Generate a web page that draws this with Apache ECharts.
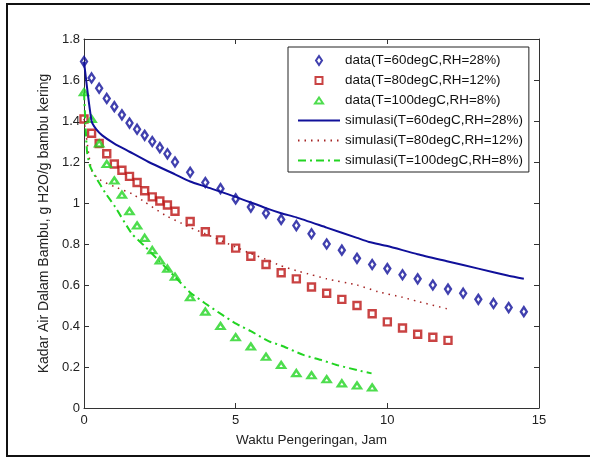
<!DOCTYPE html>
<html>
<head>
<meta charset="utf-8">
<script src="https://cdn.jsdelivr.net/npm/echarts@6/dist/echarts.min.js"></script>
<style>
  html, body { margin: 0; padding: 0; background: #fff; }
  #chart { width: 590px; height: 458px; }
</style>
</head>
<body>
<div id="chart"></div>
<script>
// Measured moisture content (g H2O / g dry bamboo) against drying time (hours)
var dataTime60 = [0, 0.25, 0.5, 0.75, 1, 1.25, 1.5, 1.75, 2, 2.25, 2.5, 2.75, 3, 3.5, 4, 4.5, 5, 5.5, 6, 6.5, 7, 7.5, 8, 8.5, 9, 9.5, 10, 10.5, 11, 11.5, 12, 12.5, 13, 13.5, 14, 14.5];
var dataMoist60 = [1.69, 1.61, 1.56, 1.51, 1.47, 1.43, 1.39, 1.36, 1.33, 1.30, 1.27, 1.24, 1.20, 1.15, 1.10, 1.07, 1.02, 0.98, 0.95, 0.92, 0.89, 0.85, 0.80, 0.77, 0.73, 0.70, 0.68, 0.65, 0.63, 0.60, 0.58, 0.56, 0.53, 0.51, 0.49, 0.47];

var dataTime80 = [0, 0.25, 0.5, 0.75, 1, 1.25, 1.5, 1.75, 2, 2.25, 2.5, 2.75, 3, 3.5, 4, 4.5, 5, 5.5, 6, 6.5, 7, 7.5, 8, 8.5, 9, 9.5, 10, 10.5, 11, 11.5, 12];
var dataMoist80 = [1.41, 1.34, 1.29, 1.24, 1.19, 1.16, 1.13, 1.10, 1.06, 1.03, 1.01, 0.99, 0.96, 0.91, 0.86, 0.82, 0.78, 0.74, 0.70, 0.66, 0.63, 0.59, 0.56, 0.53, 0.50, 0.46, 0.42, 0.39, 0.36, 0.345, 0.33];

var dataTime100 = [0, 0.25, 0.5, 0.75, 1, 1.25, 1.5, 1.75, 2, 2.25, 2.5, 2.75, 3, 3.5, 4, 4.5, 5, 5.5, 6, 6.5, 7, 7.5, 8, 8.5, 9, 9.5];
var dataMoist100 = [1.54, 1.41, 1.29, 1.19, 1.11, 1.04, 0.96, 0.89, 0.83, 0.77, 0.72, 0.68, 0.64, 0.54, 0.47, 0.40, 0.345, 0.30, 0.25, 0.21, 0.17, 0.16, 0.14, 0.12, 0.11, 0.10];

// Simulated drying curves
var simTime60 = [0, 0.25, 0.4, 0.6, 1, 1.5, 2.13, 3, 3.5, 4, 5, 6, 6.5, 7, 8, 9, 9.4, 10, 11, 12, 13, 14, 14.5];
var simMoist60 = [1.69, 1.40, 1.36, 1.33, 1.29, 1.25, 1.20, 1.14, 1.105, 1.08, 1.03, 0.975, 0.95, 0.93, 0.88, 0.83, 0.81, 0.79, 0.75, 0.715, 0.68, 0.645, 0.63];

var simTime80 = [0, 0.25, 0.5, 1, 1.58, 2, 2.68, 3.23, 3.5, 4, 5, 5.47, 6, 6.47, 7, 7.5, 8, 9, 9.7, 10.5, 11, 12];
var simMoist80 = [1.41, 1.16, 1.115, 1.08, 1.045, 1.005, 0.94, 0.90, 0.88, 0.85, 0.785, 0.755, 0.725, 0.695, 0.67, 0.65, 0.63, 0.60, 0.567, 0.54, 0.52, 0.483];

var simTime100 = [0, 0.1, 0.2, 0.37, 0.7, 1.03, 1.58, 2, 2.46, 3, 3.49, 4, 4.5, 5.03, 5.5, 6.1, 6.5, 7.23, 7.8, 8.33, 9, 9.48];
var simMoist100 = [1.54, 1.25, 1.18, 1.13, 1.05, 0.98, 0.85, 0.79, 0.72, 0.64, 0.565, 0.51, 0.46, 0.41, 0.375, 0.325, 0.305, 0.259, 0.235, 0.21, 0.185, 0.169];

var seriesNames = [
  'data(T=60degC,RH=28%)',
  'data(T=80degC,RH=12%)',
  'data(T=100degC,RH=8%)',
  'simulasi(T=60degC,RH=28%)',
  'simulasi(T=80degC,RH=12%)',
  'simulasi(T=100degC,RH=8%)'
];

var xTickValues = [0, 5, 10, 15];
var yTickValues = [0, 0.2, 0.4, 0.6, 0.8, 1, 1.2, 1.4, 1.6, 1.8];

var BLUE = '#10109a';
var RED = '#bb1414';
var RED_SIM = '#a52424';
var GREEN = '#22d422';
var FONT = '"Liberation Sans", Arial, sans-serif';

// Legend marker outlines; the bare move-to points pad the box so the
// marker keeps its own size inside the legend icon cell.
var ICON_DIAMOND = 'path://M0,0 M0,10 M3,0.5 L6,5 L3,9.5 L0,5 Z';
var ICON_SQUARE = 'path://M0,0 M10,10 M1.5,1.5 L8.5,1.5 L8.5,8.5 L1.5,8.5 Z';
var ICON_TRIANGLE = 'path://M0,0 M10,10 M5,2 L9,8 L1,8 Z';

function pairs(xs, ys) {
  return xs.map(function (x, i) { return [x, ys[i]]; });
}

var axisCommon = {
  type: 'value',
  splitLine: { show: false },
  axisLine: { show: true, onZero: false, lineStyle: { color: '#333', width: 1 } },
  axisTick: { show: true, inside: true, length: 5, lineStyle: { color: '#333', width: 1 } }
};

var chart = echarts.init(document.getElementById('chart'), null, { renderer: 'canvas' });

chart.setOption({
  animation: false,
  backgroundColor: '#fff',
  textStyle: { fontFamily: FONT },
  grid: { left: 84, top: 39, right: 51, bottom: 50, containLabel: false, outerBoundsMode: 'none' },
  graphic: [{
    type: 'rect',
    shape: { x: 7, y: 4, width: 620, height: 452 },
    style: { fill: 'none', stroke: '#111', lineWidth: 2 },
    silent: true,
    z: -10
  }],
  xAxis: [
    Object.assign({}, axisCommon, {
      min: 0, max: 15, interval: 5, position: 'bottom',
      name: 'Waktu Pengeringan, Jam',
      nameLocation: 'middle', nameGap: 25,
      nameTextStyle: { fontSize: 13.5, color: '#222', fontFamily: FONT },
      axisLabel: {
        margin: 6, fontSize: 13, color: '#222', fontFamily: FONT,
        formatter: function (v) { return xTickValues.indexOf(v) >= 0 ? String(v) : ''; }
      }
    }),
    Object.assign({}, axisCommon, {
      min: 0, max: 15, interval: 5, position: 'top',
      axisLabel: { show: false }
    })
  ],
  yAxis: [
    Object.assign({}, axisCommon, {
      min: 0, max: 1.8, interval: 0.2, position: 'left',
      name: 'Kadar Air Dalam Bambu, g H2O/g bambu kering',
      nameLocation: 'middle', nameGap: 26, nameRotate: 90,
      nameTextStyle: { fontSize: 14, color: '#222', fontFamily: FONT },
      axisLabel: {
        margin: 4, fontSize: 13, color: '#222', fontFamily: FONT,
        formatter: function (v) {
          var r = Math.round(v * 10) / 10;
          return yTickValues.indexOf(r) >= 0 ? String(r) : '';
        }
      }
    }),
    Object.assign({}, axisCommon, {
      min: 0, max: 1.8, interval: 0.2, position: 'right',
      axisLabel: { show: false }
    })
  ],
  legend: {
    orient: 'vertical',
    left: 288, top: 47,
    data: [
      { name: seriesNames[0], icon: ICON_DIAMOND },
      { name: seriesNames[1], icon: ICON_SQUARE },
      { name: seriesNames[2], icon: ICON_TRIANGLE },
      { name: seriesNames[3], itemStyle: { opacity: 0 } },
      { name: seriesNames[4], itemStyle: { opacity: 0 } },
      { name: seriesNames[5], itemStyle: { opacity: 0 } }
    ],
    itemWidth: 42, itemHeight: 10, itemGap: 7,
    symbolKeepAspect: true,
    padding: [7, 6, 5, 9],
    backgroundColor: '#fff',
    borderColor: '#222', borderWidth: 1, borderRadius: 0,
    textStyle: { fontSize: 13.4, color: '#111', fontFamily: FONT },
    selectedMode: false
  },
  series: [
    {
      name: seriesNames[0], type: 'scatter',
      data: pairs(dataTime60, dataMoist60),
      symbol: 'diamond', symbolSize: [6, 9],
      itemStyle: { color: 'rgba(255,255,255,0)', borderColor: BLUE, borderWidth: 2.4 }
    },
    {
      name: seriesNames[1], type: 'scatter',
      data: pairs(dataTime80, dataMoist80),
      symbol: 'rect', symbolSize: 7,
      itemStyle: { color: 'rgba(255,255,255,0)', borderColor: RED, borderWidth: 2.4 }
    },
    {
      name: seriesNames[2], type: 'scatter',
      data: pairs(dataTime100, dataMoist100),
      symbol: 'triangle', symbolSize: [8, 6],
      itemStyle: { color: 'rgba(255,255,255,0)', borderColor: GREEN, borderWidth: 2.4 }
    },
    {
      name: seriesNames[3], type: 'line',
      data: pairs(simTime60, simMoist60),
      showSymbol: false, symbol: 'none', smooth: 0.2,
      lineStyle: { color: BLUE, width: 2, type: 'solid' },
      itemStyle: { color: BLUE }
    },
    {
      name: seriesNames[4], type: 'line',
      data: pairs(simTime80, simMoist80),
      showSymbol: false, symbol: 'none', smooth: 0.2,
      lineStyle: { color: RED_SIM, width: 1.5, type: [1.5, 5] },
      itemStyle: { color: RED_SIM }
    },
    {
      name: seriesNames[5], type: 'line',
      data: pairs(simTime100, simMoist100),
      showSymbol: false, symbol: 'none', smooth: 0.2,
      lineStyle: { color: GREEN, width: 2, type: [8, 4, 2, 4] },
      itemStyle: { color: GREEN }
    }
  ]
});
</script>
</body>
</html>
